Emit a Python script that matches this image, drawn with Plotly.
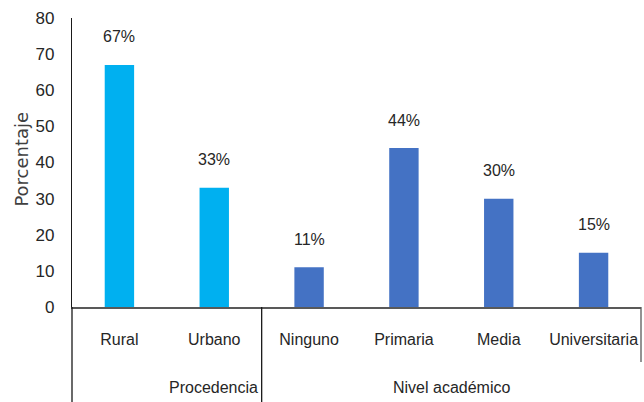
import plotly.graph_objects as go

# Survey profile: origin and academic level, in percent
categories = ["Rural", "Urbano", "Ninguno", "Primaria", "Media", "Universitaria"]
values = [67, 33, 11, 44, 30, 15]
groups = ["Procedencia", "Nivel académico"]
group_sizes = [2, 4]
group_colors = ["#00B0F0", "#4472C4"]
y_ticks = [0, 10, 20, 30, 40, 50, 60, 70, 80]

FONT = "Liberation Sans, Arial, sans-serif"
TEXT = "#262626"

bar_colors = []
for size, color in zip(group_sizes, group_colors):
    bar_colors += [color] * size

fig = go.Figure(
    go.Bar(
        x=categories,
        y=values,
        marker=dict(color=bar_colors, line=dict(width=0)),
        width=0.31,
        hoverinfo="skip",
    )
)

# value labels above each bar
for cat, val in zip(categories, values):
    fig.add_annotation(
        x=cat, y=val, text=f"{val}%", showarrow=False,
        yanchor="middle", yshift=28,
        font=dict(family=FONT, size=16, color=TEXT),
    )

# group labels and the separators of the two-level category axis
n = len(categories)
start = 0
line_kw = dict(type="line", xref="paper", yref="paper", layer="above")
for i, (grp, size) in enumerate(zip(groups, group_sizes)):
    mid = (start + size / 2) / n
    fig.add_annotation(
        x=mid, y=-0.277, xref="paper", yref="paper", text=grp, showarrow=False,
        yanchor="middle", font=dict(family=FONT, size=16, color=TEXT),
    )
    start += size
    if start < n:
        fig.add_shape(x0=start / n, x1=start / n, y0=0, y1=-0.33,
                      line=dict(color="#1a1a1a", width=1.3), **line_kw)

# left axis line continued down through the label area
fig.add_shape(x0=0, x1=0, y0=0, y1=-0.33, line=dict(color="#1a1a1a", width=1.3), **line_kw)
# right edge of the category box
fig.add_shape(x0=1, x1=1, y0=0, y1=-0.19, line=dict(color="#595959", width=1.3), **line_kw)

# value axis title
fig.add_annotation(
    x=0, y=0.51, xref="paper", yref="paper", xshift=-50,
    text="Porcentaje", textangle=-90, showarrow=False,
    xanchor="center", yanchor="middle",
    font=dict(family="DejaVu Sans", size=18, color="#404040"),
)

fig.update_layout(
    width=644, height=402,
    margin=dict(l=72, r=3, t=18, b=95),
    paper_bgcolor="white", plot_bgcolor="white",
    showlegend=False,
    xaxis=dict(
        type="category", range=[-0.5, n - 0.5],
        showline=True, linecolor="#595959", linewidth=1.5,
        showgrid=False, ticks="", ticklabelstandoff=17,
        tickfont=dict(family=FONT, size=16, color=TEXT),
        fixedrange=True,
    ),
    yaxis=dict(
        range=[0, 80], tickvals=y_ticks,
        showline=True, linecolor="#1a1a1a", linewidth=1.3,
        showgrid=False, zeroline=False, ticks="", ticklabelstandoff=13,
        tickfont=dict(family=FONT, size=17, color=TEXT),
        fixedrange=True,
    ),
)

fig.write_html("out.html")
